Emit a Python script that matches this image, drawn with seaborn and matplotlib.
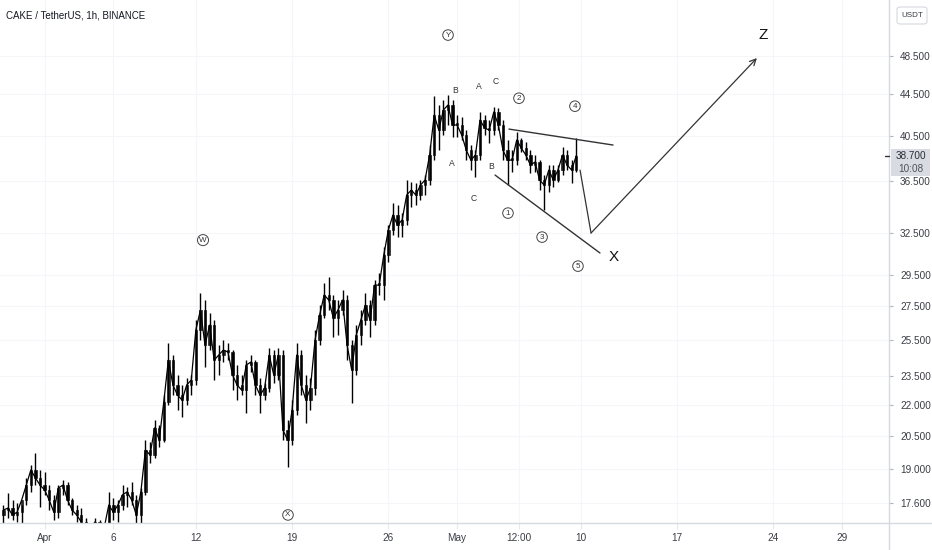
import numpy as np
import pandas as pd
import matplotlib
matplotlib.use("Agg")
import matplotlib.pyplot as plt
import seaborn as sns
from matplotlib.ticker import FixedLocator, NullLocator, NullFormatter, FuncFormatter
from matplotlib.lines import Line2D
from matplotlib.patches import FancyBboxPatch

# ---------------- data (8h candles, CAKE/USDT) ----------------
start_time = "2021-03-29 00:00"
opens = [17.13, 17.32, 17.40, 17.13, 17.24, 17.72, 18.33, 18.97, 18.63, 18.33,
         18.13, 17.72, 17.24, 18.21, 18.33, 17.72, 17.32, 17.13, 16.86, 16.56,
         16.64, 16.86, 16.49, 16.64, 17.52, 17.24, 17.52, 17.93, 18.05, 17.72,
         17.13, 18.05, 19.85, 19.63, 20.87, 20.31, 22.13, 24.34, 23.00, 22.48,
         22.23, 23.00, 23.26, 26.06, 27.26, 25.18, 26.35, 24.34, 24.62, 24.90,
         24.79, 23.53, 23.00, 22.74, 24.07, 24.23, 23.00, 22.48, 22.84, 24.62,
         23.53, 24.62, 20.77, 20.31, 21.73, 24.62, 23.00, 22.23, 22.84, 25.47,
         26.95, 28.21, 27.89, 26.77, 27.26, 27.89, 25.18, 23.80, 25.76, 26.65,
         27.58, 26.65, 28.85, 28.85, 30.89, 32.69, 33.82, 33.06, 33.44, 35.39,
         35.79, 35.39, 36.20, 36.61, 38.75, 42.43, 41.01, 42.91, 43.40, 41.48,
         41.48, 40.55, 39.19, 38.31, 38.75, 41.95, 41.20, 41.01, 42.72, 41.48,
         39.19, 38.31, 38.31, 40.09, 39.37, 38.75, 37.88, 38.14, 36.61, 36.20,
         37.45, 36.61, 37.45, 38.75, 37.88, 37.45]
highs = [17.52, 18.01, 17.72, 17.60, 17.52, 18.63, 19.19, 19.72, 18.97, 18.88,
         18.33, 17.93, 18.33, 18.54, 18.46, 17.80, 17.52, 17.40, 17.02, 16.79,
         17.02, 16.94, 16.75, 18.05, 17.80, 17.72, 18.33, 18.25, 18.46, 17.93,
         18.21, 20.31, 20.22, 21.25, 21.01, 22.48, 25.30, 24.62, 23.53, 23.00,
         23.37, 23.53, 26.65, 28.34, 27.89, 27.08, 26.65, 25.18, 25.47, 25.30,
         24.90, 24.07, 23.53, 24.34, 24.62, 24.34, 23.37, 23.10, 25.01, 24.90,
         25.01, 24.90, 21.25, 22.23, 25.30, 24.90, 23.53, 23.37, 26.06, 27.58,
         28.98, 29.38, 28.21, 27.89, 28.53, 28.21, 25.47, 26.35, 27.26, 28.34,
         27.89, 29.18, 29.65, 31.45, 33.06, 34.75, 34.60, 33.97, 36.61, 36.45,
         36.36, 36.61, 37.03, 39.64, 44.29, 43.40, 43.89, 44.39, 43.89, 42.43,
         42.24, 41.01, 39.64, 39.19, 42.72, 42.43, 41.95, 43.20, 43.10, 41.95,
         40.09, 39.19, 40.83, 40.27, 39.91, 39.19, 38.75, 38.31, 37.03, 37.88,
         37.88, 37.88, 39.46, 39.19, 38.31, 40.27]
lows = [16.83, 17.02, 16.94, 16.86, 16.64, 17.52, 18.05, 18.33, 17.44, 17.93,
        17.32, 16.94, 17.02, 17.93, 17.52, 17.13, 16.86, 16.64, 16.37, 16.19,
        16.49, 16.26, 16.19, 16.56, 16.94, 16.86, 17.32, 17.44, 17.52, 16.64,
        16.75, 17.93, 19.28, 19.50, 19.99, 20.22, 21.98, 22.48, 21.73, 21.39,
        21.98, 22.48, 23.00, 25.47, 23.96, 24.90, 23.26, 23.53, 24.23, 24.34,
        22.74, 22.23, 22.48, 21.58, 23.69, 22.48, 21.58, 22.23, 22.64, 23.10,
        23.26, 20.31, 19.10, 20.08, 21.49, 22.48, 21.11, 21.73, 22.48, 25.18,
        26.77, 27.26, 25.65, 25.76, 26.95, 24.34, 22.08, 23.53, 25.18, 26.35,
        25.65, 26.35, 28.21, 27.89, 30.40, 32.32, 32.17, 32.17, 33.06, 34.44,
        34.60, 34.99, 35.39, 36.20, 38.31, 39.19, 40.55, 41.48, 40.37, 40.37,
        40.09, 38.31, 37.45, 36.86, 38.31, 40.55, 39.82, 40.55, 41.01, 38.31,
        36.20, 37.28, 37.88, 39.01, 38.31, 37.20, 37.28, 35.79, 34.20, 35.63,
        36.03, 36.45, 37.03, 37.45, 36.36, 37.28]
closes = [17.32, 17.40, 17.13, 17.24, 17.72, 18.33, 18.97, 18.63, 18.33, 18.13,
          17.72, 17.24, 18.21, 18.33, 17.72, 17.32, 17.13, 16.86, 16.56, 16.64,
          16.86, 16.49, 16.64, 17.52, 17.24, 17.52, 17.93, 18.05, 17.72, 17.13,
          18.05, 19.85, 19.63, 20.87, 20.31, 22.13, 24.34, 23.00, 22.48, 22.23,
          23.00, 23.26, 26.06, 27.26, 25.18, 26.35, 24.34, 24.62, 24.90, 24.79,
          23.53, 23.00, 22.74, 24.07, 24.23, 23.00, 22.48, 22.84, 24.62, 23.53,
          24.62, 20.77, 20.31, 21.73, 24.62, 23.00, 22.23, 22.84, 25.47, 26.95,
          28.21, 27.89, 26.77, 27.26, 27.89, 25.18, 23.80, 25.76, 26.65, 27.58,
          26.65, 28.85, 28.85, 30.89, 32.69, 33.82, 33.06, 33.44, 35.39, 35.79,
          35.39, 36.20, 36.61, 38.75, 42.43, 41.01, 42.91, 43.40, 41.48, 41.48,
          40.55, 39.19, 38.31, 38.75, 41.95, 41.20, 41.01, 42.72, 41.48, 39.19,
          38.31, 38.31, 40.09, 39.37, 38.75, 37.88, 38.14, 36.61, 36.20, 37.45,
          36.61, 37.45, 38.75, 37.88, 37.45, 38.70]

price_ticks = [17.6, 19.0, 20.5, 22.0, 23.5, 25.5, 27.5, 29.5, 32.5, 36.5, 40.5, 44.5, 48.5]
date_tick_days = [0, 5, 11, 18, 25, 30, 34.5, 39, 46, 53, 58]
date_tick_labels = ["Apr", "6", "12", "19", "26", "May", "12:00", "10", "17", "24", "29"]

# Elliott wave drawings (day offset from Apr 1, price)
upper_line = ([33.77, 41.34], [41.10, 39.64])
lower_line = ([32.76, 40.39], [37.03, 31.03])
projection = ([38.94, 39.74, 51.80], [37.45, 32.47, 48.28])
plain_labels = [("B", 29.85, 44.90), ("A", 31.60, 45.31), ("C", 32.83, 45.82),
                ("A", 29.63, 38.05), ("B", 32.47, 37.79), ("C", 31.23, 35.15)]
circled_labels = [("Y", 29.34, 50.87), ("W", 11.52, 31.95), ("X", 17.70, 17.13),
                  ("1", 33.70, 33.97), ("2", 34.50, 44.08), ("3", 36.18, 32.17),
                  ("4", 38.57, 43.29), ("5", 38.79, 30.12)]
big_labels = [("X", 41.41, 30.75), ("Z", 52.25, 50.87)]

# ---------------- figure ----------------
sns.set_theme(style="white")
plt.rcParams["font.family"] = ["Liberation Sans", "DejaVu Sans"]

W, H = 932, 550
fig = plt.figure(figsize=(W / 100, H / 100), dpi=100)
fig.patch.set_facecolor("white")
ax = fig.add_axes([0, 27 / H, 889 / W, 523 / H])

times = pd.date_range(start_time, periods=len(closes), freq="8h")
df = pd.DataFrame({
    "t": (times - pd.Timestamp("2021-04-01")) / pd.Timedelta(days=1),
    "open": opens, "high": highs, "low": lows, "close": closes,
})

ax.set_yscale("log")
sns.lineplot(data=df, x="t", y="close", color="black", lw=0.9, ax=ax)
ax.vlines(df["t"], df["low"], df["high"], color="black", lw=1.0)
up = df["close"] >= df["open"]
body_bottom = np.minimum(df["open"], df["close"])
body_h = np.maximum(np.abs(df["close"] - df["open"]), body_bottom * 0.004)
ax.bar(df["t"][up], body_h[up], bottom=body_bottom[up], width=0.17,
       color="#2a2a2a", edgecolor="black", linewidth=0.4)
ax.bar(df["t"][~up], body_h[~up], bottom=body_bottom[~up], width=0.17,
       color="black", edgecolor="black", linewidth=0.4)

ax.set_xlim(-3.244, 61.41)
ax.set_ylim(16.82, 55.08)
ax.set_xlabel("")
ax.set_ylabel("")

# axes styling
ax.yaxis.set_major_locator(FixedLocator(price_ticks))
ax.yaxis.set_minor_locator(NullLocator())
ax.yaxis.set_minor_formatter(NullFormatter())
ax.yaxis.set_major_formatter(FuncFormatter(lambda v, p: f"{v:.3f}"))
ax.yaxis.tick_right()
ax.tick_params(axis="y", which="major", right=True, left=False, labelright=True,
               labelleft=False, length=3, width=0.8, color="#b2b5be",
               labelsize=7.2, labelcolor="#3a3d45", pad=5)
ax.set_xticks(date_tick_days)
ax.set_xticklabels(date_tick_labels)
ax.tick_params(axis="x", bottom=True, length=4, width=0.8, color="#e6e8ee",
               labelsize=7.2, labelcolor="#3a3d45", pad=3)
ax.grid(True, color="#f5f6f9", lw=0.8)
for s in ["top", "left"]:
    ax.spines[s].set_visible(False)
for s in ["right", "bottom"]:
    ax.spines[s].set_color("#d6d9e0")
    ax.spines[s].set_linewidth(1)
fig.add_artist(Line2D([889 / W, 1], [27 / H, 27 / H], color="#d6d9e0", lw=1))
fig.add_artist(Line2D([889 / W, 889 / W], [0, 27 / H], color="#d6d9e0", lw=1))

# drawings
lc = "#333333"
ax.plot(*upper_line, color=lc, lw=1.0)
ax.plot(*lower_line, color=lc, lw=1.0)
ax.plot(projection[0][:2], projection[1][:2], color=lc, lw=0.9)
ax.annotate("", xy=(projection[0][2], projection[1][2]),
            xytext=(projection[0][1], projection[1][1]),
            arrowprops=dict(arrowstyle="->", color=lc, lw=0.9, shrinkA=0, shrinkB=0,
                            mutation_scale=11))
for txt, x, y in plain_labels:
    ax.text(x, y, txt, fontsize=6.2, color="#333333", ha="center", va="center")
for txt, x, y in circled_labels:
    ax.text(x, y, txt, fontsize=5.8, color="#333333", ha="center", va="center",
            bbox=dict(boxstyle="circle,pad=0.22", fc="white", ec="#444444", lw=0.7))
for txt, x, y in big_labels:
    ax.text(x, y, txt, fontsize=11, color="#111111", ha="center", va="center",
            family=["Liberation Sans Narrow", "Liberation Sans", "DejaVu Sans"])

# header text
fig.text(6 / W, 1 - 16 / H, "CAKE / TetherUS, 1h, BINANCE", fontsize=7.0,
         color="#131722", ha="left", va="center")

# USDT box
fig.add_artist(FancyBboxPatch((897 / W, 1 - 24 / H), 30 / W, 17 / H,
                              boxstyle="round,pad=0,rounding_size=0.004",
                              transform=fig.transFigure, fc="white", ec="#d6d9e0", lw=0.8))
fig.text(912 / W, 1 - 15.5 / H, "USDT", fontsize=5.8, color="#3a3d45", ha="center", va="center")

# current price label
fig.canvas.draw()
ypix = ax.transData.transform((0, closes[-1]))[1]
fig.add_artist(FancyBboxPatch((891 / W, (ypix - 20) / H), 39 / W, 27 / H,
                              boxstyle="square,pad=0", transform=fig.transFigure,
                              fc="#d8dbe2", ec="none"))
fig.add_artist(Line2D([885 / W, 889 / W], [ypix / H, ypix / H], color="#333333", lw=1))
fig.text(911 / W, ypix / H, f"{closes[-1]:.3f}", fontsize=7.2, color="#2a2e39",
         ha="center", va="center")
fig.text(911 / W, (ypix - 13) / H, "10:08", fontsize=7.2, color="#50535e",
         ha="center", va="center")

fig.savefig("out.png", dpi=100, facecolor="white")
